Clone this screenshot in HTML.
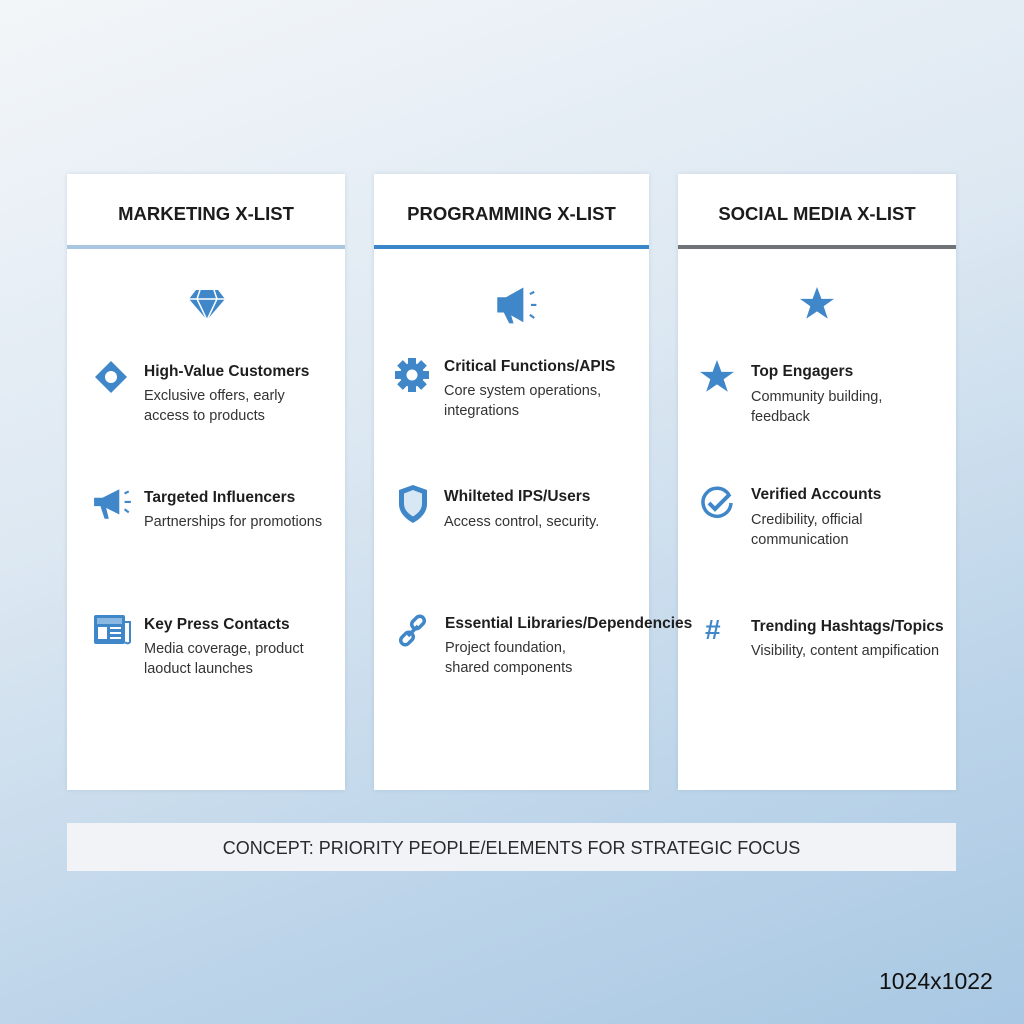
<!DOCTYPE html>
<html><head><meta charset="utf-8"><style>
body{margin:0;width:1024px;height:1024px;overflow:hidden;font-family:"Liberation Sans",sans-serif;
background:linear-gradient(160deg,#f3f6f9 0%,#dde8f2 40%,#bcd4e9 75%,#a9c8e3 100%);position:relative}
.card{position:absolute;top:174px;height:616px;background:#fff;box-shadow:0 0 4px rgba(120,150,180,.25)}
.hd{position:absolute;left:0;right:0;top:0;height:73px;line-height:80px;text-align:center;font-weight:bold;font-size:18.5px;color:#1c1c1c}
.ln{position:absolute;left:0;right:0;top:245px;height:4px}
.t{position:absolute;font-size:15.5px;font-weight:bold;color:#1e1e1e;white-space:nowrap}
.d{position:absolute;font-size:14.5px;color:#333;line-height:20px;white-space:nowrap}
svg{position:absolute}
</style></head><body>
<div class="card" style="left:67px;width:278px"><div class="hd">MARKETING X-LIST</div></div>
<div class="card" style="left:374px;width:275px"><div class="hd">PROGRAMMING X-LIST</div></div>
<div class="card" style="left:678px;width:278px"><div class="hd">SOCIAL MEDIA X-LIST</div></div>
<div class="ln" style="left:67px;width:278px;background:#a8c6e0"></div>
<div class="ln" style="left:374px;width:275px;background:#3a86c8"></div>
<div class="ln" style="left:678px;width:278px;background:#707478"></div>

<!-- col1 -->
<svg style="left:188px;top:289px" width="38" height="32" viewBox="0 0 38 32"><path d="M8 1h22l7 9L19 31 1 10z" fill="#3f87c8"/><path d="M1 10h36M12 1l-3 9 10 21 10-21-3-9" stroke="#fff" stroke-width="1.5" fill="none"/></svg>
<svg style="left:94px;top:360px" width="34" height="34" viewBox="0 0 34 34"><path d="M17 1l16 16-16 16L1 17z" fill="#3f87c8"/><circle cx="17" cy="17" r="6" fill="#fff"/></svg>
<div class="t" style="left:144px;top:363px">High-Value Customers</div>
<div class="d" style="left:144px;top:386px">Exclusive offers, early<br>access to products</div>
<svg style="left:92px;top:487px" width="42" height="34" viewBox="0 0 40 30"><path d="M2 9h8l16-8v24L10 17H2z" fill="#3f87c8"/><path d="M8 17l4 12h4l-3-12z" fill="#3f87c8"/><path d="M31 5l4-2M31 13h6M31 20l4 3" stroke="#3f87c8" stroke-width="2"/></svg>
<div class="t" style="left:144px;top:489px">Targeted Influencers</div>
<div class="d" style="left:144px;top:512px">Partnerships for promotions</div>
<svg style="left:93px;top:614px" width="40" height="32" viewBox="0 0 40 32"><rect x="1" y="1" width="31" height="29" rx="2" fill="#3f87c8"/><path d="M32 8h5v20a3 3 0 0 1-5 0" fill="none" stroke="#3f87c8" stroke-width="2"/><rect x="4" y="4" width="25" height="6" fill="#8ab8e0"/><rect x="5" y="13" width="9" height="12" fill="#fff"/><path d="M17 14h11M17 19h11M17 24h11" stroke="#fff" stroke-width="2"/></svg>
<div class="t" style="left:144px;top:616px">Key Press Contacts</div>
<div class="d" style="left:144px;top:639px">Media coverage, product<br>laoduct launches</div>

<!-- col2 -->
<svg style="left:494px;top:286px" width="50" height="40" viewBox="0 0 46 36"><path d="M3 10h8l16-9v32L11 24H3z" fill="#3f87c8"/><path d="M9 24l5 10h4l-3-10z" fill="#3f87c8"/><path d="M33 7l4-2M34 17h5M33 26l4 3" stroke="#3f87c8" stroke-width="2"/></svg>
<svg style="left:395px;top:358px" width="34" height="34" viewBox="0 0 34 34"><g fill="#3f87c8" transform="translate(17 17)"><circle r="12"/><g id="tt"><rect x="-4" y="-17" width="8" height="8"/></g><use href="#tt" transform="rotate(45)"/><use href="#tt" transform="rotate(90)"/><use href="#tt" transform="rotate(135)"/><use href="#tt" transform="rotate(180)"/><use href="#tt" transform="rotate(225)"/><use href="#tt" transform="rotate(270)"/><use href="#tt" transform="rotate(315)"/></g><circle cx="17" cy="17" r="5.5" fill="#fff"/></svg>
<div class="t" style="left:444px;top:358px">Critical Functions/APIS</div>
<div class="d" style="left:444px;top:381px">Core system operations,<br>integrations</div>
<svg style="left:397px;top:484px" width="32" height="40" viewBox="0 0 32 40"><path d="M16 1L30 6v14c0 9-7 15-14 19C9 35 2 29 2 20V6z" fill="#3f87c8"/><path d="M16 6L25 9.5v10c0 6-4 10-9 13-5-3-9-7-9-13v-10z" fill="#d8e7f4"/></svg>
<div class="t" style="left:444px;top:488px">Whilteted IPS/Users</div>
<div class="d" style="left:444px;top:512px">Access control, security.</div>
<svg style="left:396px;top:614px" width="34" height="34" viewBox="0 0 34 34"><g fill="none" stroke="#3f87c8" stroke-width="3.5"><rect x="15" y="4" width="14" height="9" rx="4.5" transform="rotate(-45 22 8.5)"/><rect x="4" y="20" width="14" height="9" rx="4.5" transform="rotate(-45 11 24.5)"/><path d="M12 22l10-10"/></g></svg>
<div class="t" style="left:445px;top:615px">Essential Libraries/Dependencies</div>
<div class="d" style="left:445px;top:638px">Project foundation,<br>shared components</div>

<!-- col3 -->
<svg style="left:799px;top:287px" width="36" height="34" viewBox="0 0 24 23"><path d="M12 0l3 8h8.5l-7 5 2.8 8.5L12 16.5 4.7 21.5 7.5 13 .5 8H9z" fill="#3f87c8"/></svg>
<svg style="left:699px;top:360px" width="36" height="34" viewBox="0 0 24 23"><path d="M12 0l3 8h8.5l-7 5 2.8 8.5L12 16.5 4.7 21.5 7.5 13 .5 8H9z" fill="#3f87c8"/></svg>
<div class="t" style="left:751px;top:363px">Top Engagers</div>
<div class="d" style="left:751px;top:387px">Community building,<br>feedback</div>
<svg style="left:699px;top:485px" width="36" height="36" viewBox="0 0 36 36"><path d="M30 10A14 14 0 1 0 32 18" fill="none" stroke="#3f87c8" stroke-width="3.5"/><path d="M10 18l6 6 15-15" fill="none" stroke="#3f87c8" stroke-width="4"/></svg>
<div class="t" style="left:751px;top:486px">Verified Accounts</div>
<div class="d" style="left:751px;top:510px">Credibility, official<br>communication</div>
<div style="position:absolute;left:705px;top:614px;font-size:28px;font-weight:bold;color:#3f87c8">#</div>
<div class="t" style="left:751px;top:618px">Trending Hashtags/Topics</div>
<div class="d" style="left:751px;top:641px">Visibility, content ampification</div>

<div style="position:absolute;left:67px;top:823px;width:889px;height:48px;background:#f1f3f6;text-align:center;line-height:50px;font-size:18px;color:#2a2a2a">CONCEPT: PRIORITY PEOPLE/ELEMENTS FOR STRATEGIC FOCUS</div>
<div style="position:absolute;left:879px;top:968px;font-size:23px;color:#111">1024x1022</div>
</body></html>
